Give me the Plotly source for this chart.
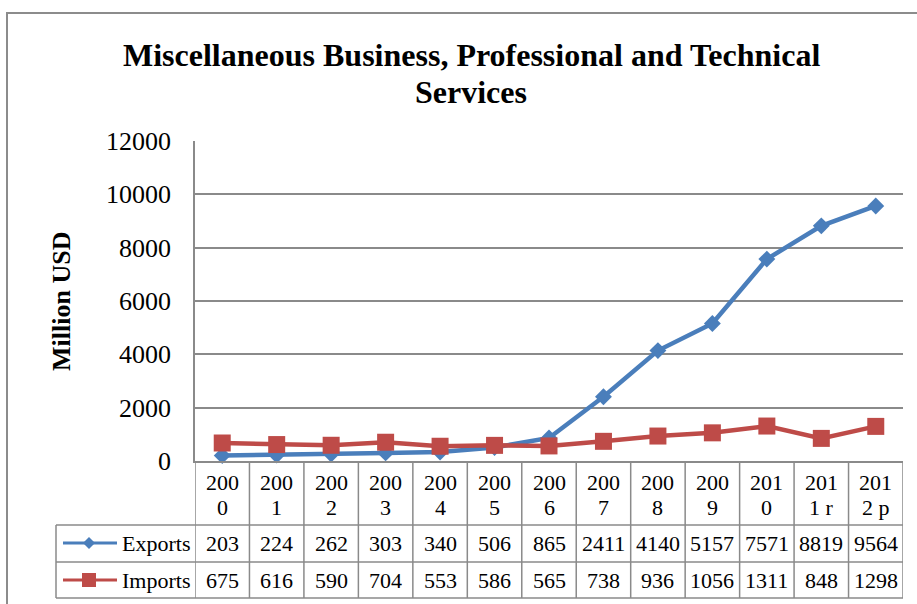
import plotly.graph_objects as go

# Annual services trade, million USD
years = ["2000", "2001", "2002", "2003", "2004", "2005", "2006",
         "2007", "2008", "2009", "2010", "2011 r", "2012 p"]
exports = [203, 224, 262, 303, 340, 506, 865, 2411, 4140, 5157, 7571, 8819, 9564]
imports = [675, 616, 590, 704, 553, 586, 565, 738, 936, 1056, 1311, 848, 1298]
series_names = ["Exports", "Imports"]
y_ticks = [0, 2000, 4000, 6000, 8000, 10000, 12000]
title_lines = ["Miscellaneous Business, Professional and Technical", "Services"]

BLUE = "#4A7EBB"
RED = "#BE4B48"
GRID = "#8A8A8A"
FONT = "Liberation Serif"

W, H = 917, 604
L, R, T, B = 195, 14, 141, 143
PW, PH = W - L - R, H - T - B


def px_x(X):
    """Pixel column -> paper x."""
    return (X - L) / PW


def px_y(Y):
    """Pixel row -> paper y."""
    return (H - B - Y) / PH


idx = list(range(len(years)))

fig = go.Figure()
fig.add_trace(go.Scatter(
    x=idx, y=exports, name=series_names[0], mode="lines+markers",
    line=dict(color=BLUE, width=4.5),
    marker=dict(symbol="diamond", size=13, color=BLUE),
    cliponaxis=False,
))
fig.add_trace(go.Scatter(
    x=idx, y=imports, name=series_names[1], mode="lines+markers",
    line=dict(color=RED, width=4.5),
    marker=dict(symbol="square", size=17, color=RED),
    cliponaxis=False,
))

shapes = []
annotations = []

# data table rows (pixel rows of the grid)
row_top, row_e, row_i, row_bot = 461, 525, 562, 598
table_left = 56

# vertical cell borders at the category boundaries
for i in range(len(years) + 1):
    shapes.append(dict(type="line", xref="x", yref="paper",
                       x0=i - 0.5, x1=i - 0.5,
                       y0=px_y(row_top), y1=px_y(row_bot),
                       line=dict(color=GRID, width=1.5), layer="below"))
# legend column left border
shapes.append(dict(type="line", xref="paper", yref="paper",
                   x0=px_x(table_left), x1=px_x(table_left),
                   y0=px_y(row_e), y1=px_y(row_bot),
                   line=dict(color=GRID, width=1.5)))
# horizontal borders
for Y in (row_e, row_i, row_bot):
    shapes.append(dict(type="line", xref="paper", yref="paper",
                       x0=px_x(table_left), x1=1,
                       y0=px_y(Y), y1=px_y(Y),
                       line=dict(color=GRID, width=1.5)))

# category labels, wrapped the way the narrow cells wrap them
for i, yr in enumerate(years):
    for part, Y in ((yr[:3], 482), (yr[3:], 507)):
        annotations.append(dict(xref="x", yref="paper", x=i, y=px_y(Y),
                                text=part, showarrow=False,
                                xanchor="center", yanchor="middle",
                                font=dict(family=FONT, size=22, color="black")))

# value rows
for vals, Y in ((exports, 543), (imports, 580)):
    for i, v in enumerate(vals):
        annotations.append(dict(xref="x", yref="paper", x=i, y=px_y(Y),
                                text=str(v), showarrow=False,
                                xanchor="center", yanchor="middle",
                                font=dict(family=FONT, size=22, color="black")))

# legend keys inside the table
for name, color, Y, sym in ((series_names[0], BLUE, 543, "diamond"),
                            (series_names[1], RED, 580, "square")):
    shapes.append(dict(type="line", xref="paper", yref="paper",
                       x0=px_x(63), x1=px_x(117), y0=px_y(Y), y1=px_y(Y),
                       line=dict(color=color, width=3)))
    if sym == "diamond":
        shapes.append(dict(type="path", xref="paper", yref="paper",
                           xsizemode="pixel", ysizemode="pixel",
                           xanchor=px_x(89), yanchor=px_y(Y),
                           path="M0,6 L6,0 L0,-6 L-6,0 Z",
                           fillcolor=color, line=dict(color=color, width=0)))
    else:
        shapes.append(dict(type="rect", xref="paper", yref="paper",
                           xsizemode="pixel", ysizemode="pixel",
                           xanchor=px_x(89), yanchor=px_y(Y),
                           x0=-7, x1=7, y0=-7, y1=7,
                           fillcolor=color, line=dict(color=color, width=0)))
    annotations.append(dict(xref="paper", yref="paper", x=px_x(120), y=px_y(Y),
                            text=name, showarrow=False,
                            xanchor="left", yanchor="middle",
                            font=dict(family=FONT, size=22, color="black")))

# y axis title
annotations.append(dict(xref="paper", yref="paper", x=px_x(61), y=px_y(302),
                        text="<b>Million USD</b>", showarrow=False, textangle=-90,
                        xanchor="center", yanchor="middle",
                        font=dict(family=FONT, size=26, color="black")))

# chart title, two lines with tight spacing
for line, Y in zip(title_lines, (55, 92)):
    annotations.append(dict(xref="paper", yref="paper", x=px_x(471), y=px_y(Y),
                            text=f"<b>{line}</b>", showarrow=False,
                            xanchor="center", yanchor="middle",
                            font=dict(family=FONT, size=32, color="black")))

# chart area border
shapes.append(dict(type="rect", xref="paper", yref="paper",
                   x0=px_x(7), x1=px_x(960), y0=px_y(13), y1=px_y(660),
                   line=dict(color="#8C8C8C", width=2), fillcolor="rgba(0,0,0,0)"))

fig.update_layout(
    width=W, height=H,
    margin=dict(l=L, r=R, t=T, b=B),
    paper_bgcolor="white", plot_bgcolor="white",
    showlegend=False,
    xaxis=dict(range=[-0.5, len(years) - 0.5], showgrid=False, zeroline=False,
               showticklabels=False, ticks="", showline=True,
               linecolor=GRID, linewidth=1.5),
    yaxis=dict(range=[0, 12000], tickvals=y_ticks,
               ticktext=[str(v) for v in y_ticks], showgrid=True,
               gridcolor=GRID, gridwidth=1.5, zeroline=False,
               showline=True, linecolor=GRID, linewidth=1.5, ticks="",
               ticklabelstandoff=17,
               tickfont=dict(family=FONT, size=26, color="black")),
    shapes=shapes,
    annotations=annotations,
)

fig.write_html("out.html")
